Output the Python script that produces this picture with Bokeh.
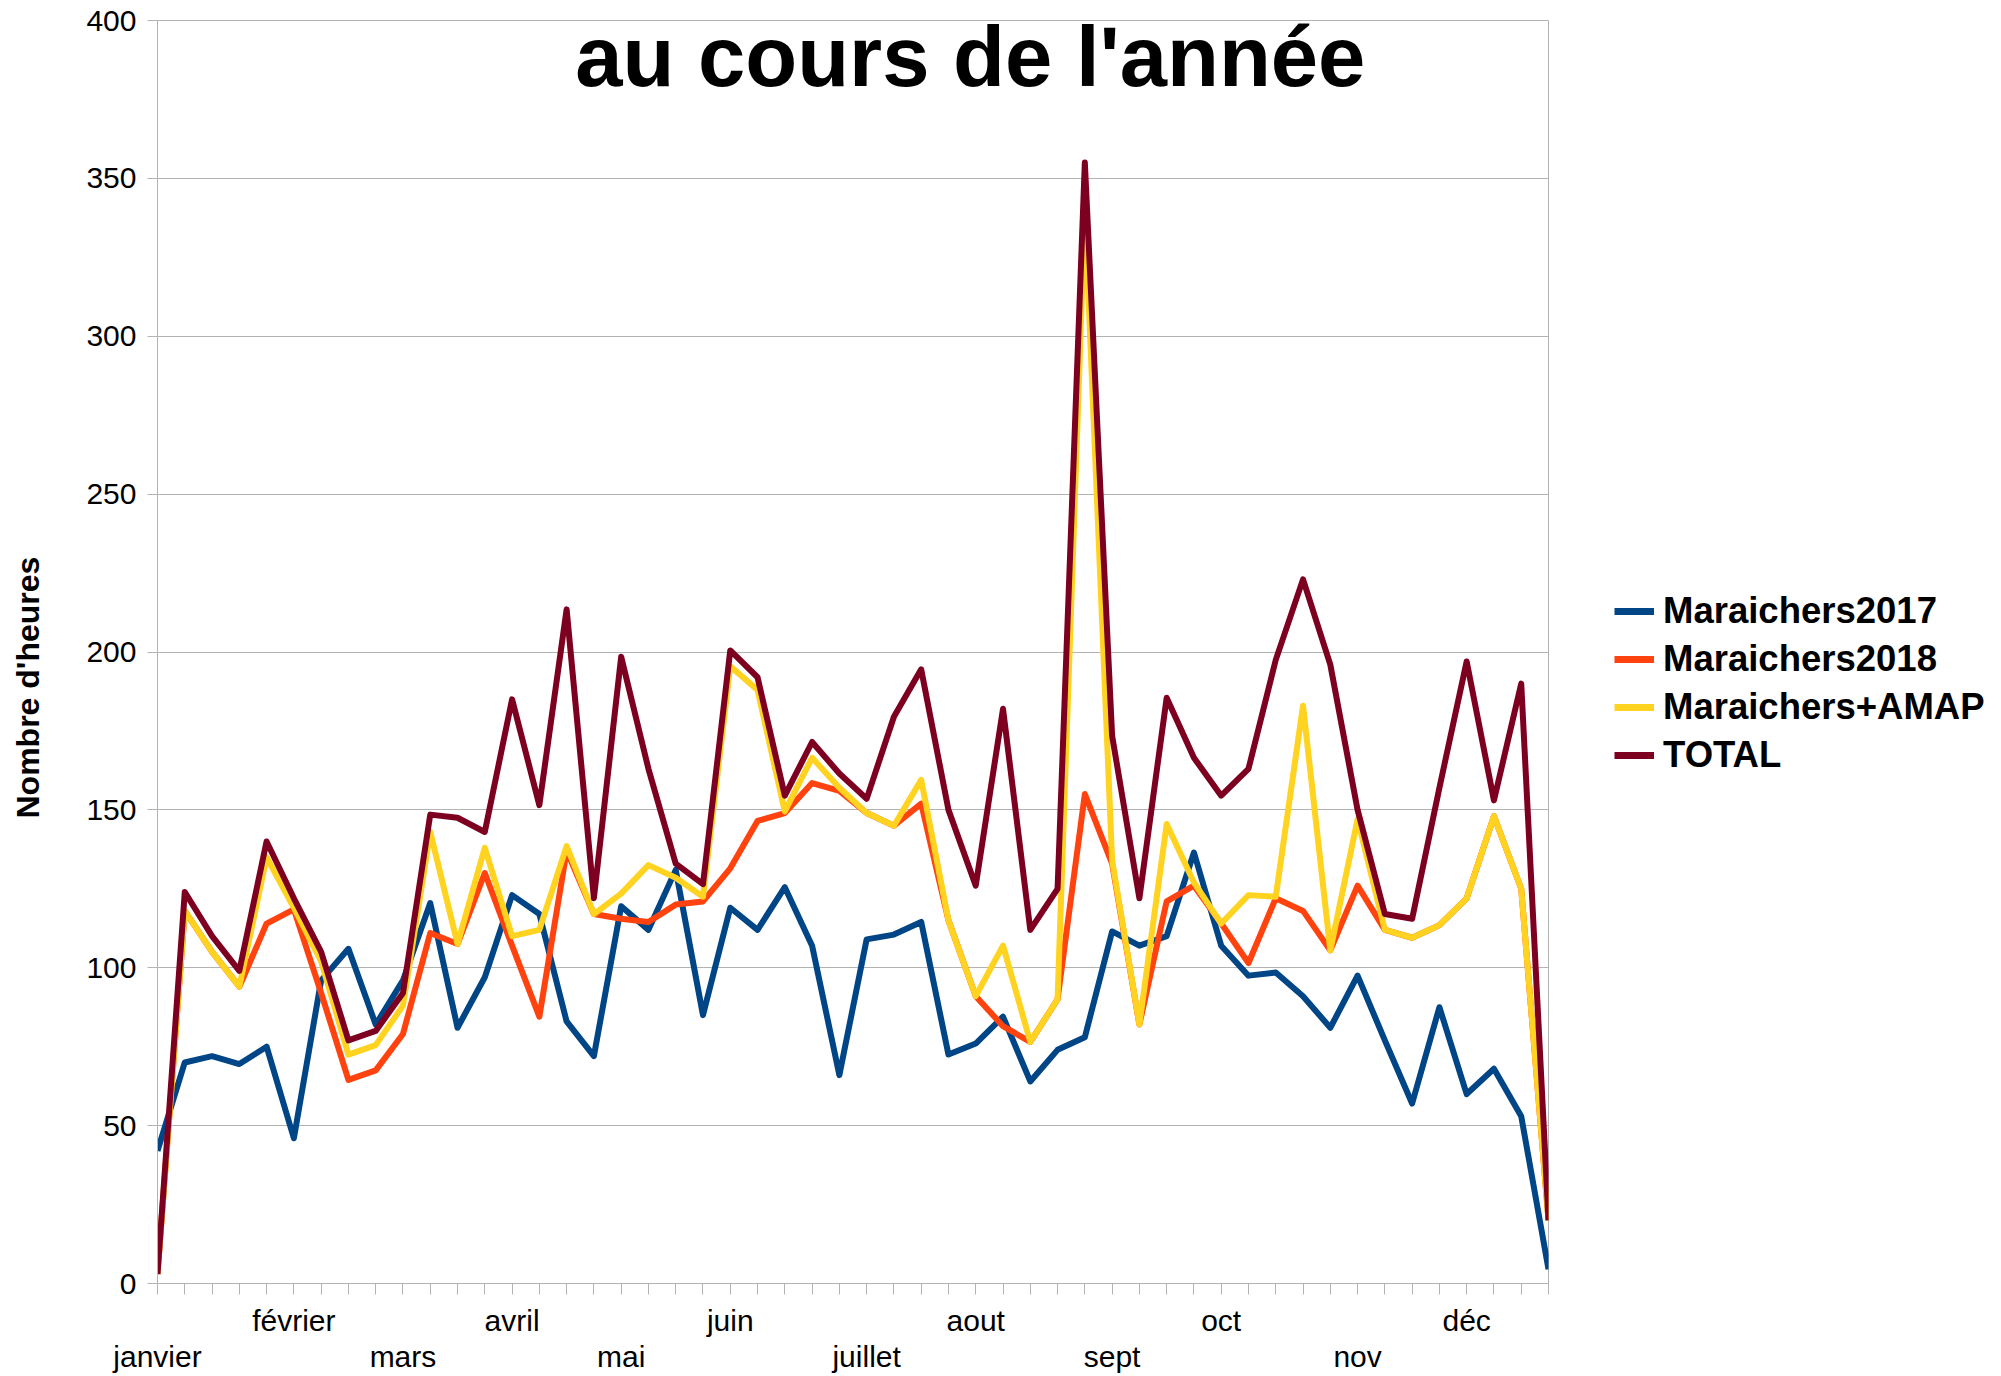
from bokeh.plotting import figure
from bokeh.layouts import row
from bokeh.models import (Range1d, FixedTicker, Legend, LegendItem, Label,
                          LinearAxis)
from bokeh.embed import file_html
from bokeh.resources import INLINE

# ---------------- data ----------------
weeks = list(range(52))
month_names = ["janvier", "février", "mars", "avril", "mai", "juin",
               "juillet", "aout", "sept", "oct", "nov", "déc"]
month_week = [0, 5, 9, 13, 17, 21, 26, 30, 35, 39, 44, 48]
y_ticks = [0, 50, 100, 150, 200, 250, 300, 350, 400]

series_names = ["Maraichers2017", "Maraichers2018", "Maraichers+AMAP", "TOTAL"]

maraichers2017 = [42, 70, 72, 69.5, 75, 46, 96, 106, 82, 96, 120.5, 81, 97, 123,
                  117, 83, 72, 119.5, 112, 131, 85, 119, 112, 125.5, 107, 66,
                  109, 110.5, 114.5, 72.5, 76, 84.5, 64, 74, 78, 111.5, 107, 110,
                  136.5, 107, 97.5, 98.5, 91, 81, 97.5, 77, 57, 87.5, 60, 68,
                  53, 4.5]
maraichers2018 = [3, 118, 105, 94, 114, 118.5, 92, 64.5, 67.5, 79, 111, 107.5,
                  130, 107, 84.5, 137, 117, 115.5, 114.5, 120, 121, 131.5, 146.5,
                  149, 158.5, 156, 149, 145, 152, 115, 91, 81.5, 76.5, 90, 155,
                  133, 82, 121, 126, 114, 101.5, 122, 118, 105.5, 126, 112, 109.5,
                  113.5, 122, 148, 125, 20]
maraichers_amap = [3, 118, 105, 94, 135, 119, 102, 72.5, 75.5, 88, 143, 107.5,
                   138, 110, 112, 138.5, 117, 123.5, 132.5, 128.5, 122.5, 195.5,
                   188, 149.5, 166.5, 157, 149, 145, 159.5, 115, 91, 107, 76.5,
                   90, 340, 134, 82, 145.5, 127, 114, 123, 122.5, 183, 105.5, 147,
                   112, 109.5, 113.5, 122, 148, 125, 20]
total = [3, 124, 110, 99, 140, 122, 105, 77, 80, 92, 148.5, 147.5, 143, 185,
         151.5, 213.5, 122, 198.5, 163, 133, 126.5, 200.5, 192, 154.5, 171.5,
         161.5, 153.5, 179.5, 194.5, 150, 126, 182, 112, 125, 355, 173.5, 122,
         185.5, 166.5, 154.5, 163, 197.5, 223, 196, 150, 117, 115.5, 157, 197,
         153, 190, 20]

colors = ["#004586", "#ff420e", "#ffd320", "#7e0021"]
FONT = "Liberation Sans"
GRID = "#b3b3b3"

# ---------------- main figure ----------------
p = figure(width=1550, height=1376, output_backend="svg", toolbar_location=None,
           x_range=Range1d(0, 51), y_range=Range1d(0, 400),
           min_border_left=157, min_border_right=2, min_border_top=20,
           min_border_bottom=93, background_fill_color="white",
           border_fill_color="white", outline_line_color=GRID,
           outline_line_width=1)

p.xgrid.visible = False
p.ygrid.ticker = FixedTicker(ticks=y_ticks)
p.ygrid.grid_line_color = GRID
p.ygrid.grid_line_width = 1

# y axis
p.yaxis.ticker = FixedTicker(ticks=y_ticks)
p.yaxis.major_tick_out = 10
p.yaxis.major_tick_in = 0
p.yaxis.minor_tick_line_color = None
p.yaxis.axis_line_color = GRID
p.yaxis.major_tick_line_color = GRID
p.yaxis.major_label_text_font = FONT
p.yaxis.major_label_text_font_size = "30px"
p.yaxis.major_label_text_color = "black"
p.yaxis.major_label_standoff = 11
p.yaxis.axis_label = "Nombre d'heures" + "\u00a0" * 8
p.yaxis.axis_label_text_font = FONT
p.yaxis.axis_label_text_font_style = "bold"
p.yaxis.axis_label_text_font_size = "32px"
p.yaxis.axis_label_text_color = "black"
p.yaxis.axis_label_standoff = 37

# x axis: ticks for every week, upper row of month labels
upper_idx = list(range(1, 12, 2))
lower_idx = list(range(0, 12, 2))
overrides = {w: "" for w in weeks}
for i in upper_idx:
    overrides[month_week[i]] = month_names[i]
xa = p.xaxis[0]
xa.ticker = FixedTicker(ticks=weeks)
xa.major_label_overrides = overrides
xa.major_tick_out = 11
xa.major_tick_in = 0
xa.minor_tick_line_color = None
xa.axis_line_color = GRID
xa.major_tick_line_color = GRID
xa.major_label_text_font = FONT
xa.major_label_text_font_size = "30px"
xa.major_label_text_color = "black"
xa.major_label_standoff = 9

# second axis: lower row of month labels (staggered)
xb = LinearAxis(ticker=FixedTicker(ticks=[month_week[i] for i in lower_idx]),
                major_label_overrides={month_week[i]: month_names[i] for i in lower_idx},
                axis_line_color=None, major_tick_line_color=None,
                minor_tick_line_color=None, major_tick_out=0, major_tick_in=0,
                minor_tick_out=0, minor_tick_in=0,
                major_label_standoff=0, major_label_text_font=FONT,
                major_label_text_font_size="30px", major_label_text_color="black")
p.add_layout(xb, "below")

# lines
all_series = [maraichers2017, maraichers2018, maraichers_amap, total]
for vals, col in zip(all_series, colors):
    p.line(weeks, vals, line_color=col, line_width=6, line_join="round")

title = Label(x=29.8, y=388.5, text="au cours de l'année", text_font=FONT,
              text_font_style="bold", text_font_size="85px",
              text_align="center", text_baseline="alphabetic",
              text_color="black")
p.add_layout(title)

# ---------------- legend panel ----------------
# The series are drawn here again only so the legend has glyphs; the ranges
# keep them outside the visible frame of this panel.
pl = figure(width=443, height=1376, output_backend="svg", toolbar_location=None,
            x_range=Range1d(-3, -2), y_range=Range1d(-3, -2),
            x_axis_location=None, y_axis_location=None,
            min_border_left=0, min_border_right=0, min_border_top=0,
            min_border_bottom=0, background_fill_color="white",
            border_fill_color="white", outline_line_color=None)
pl.xgrid.visible = False
pl.ygrid.visible = False
leg_renderers = [pl.line(weeks, vals, line_color=col, line_width=7)
                 for vals, col in zip(all_series, colors)]
legend = Legend(items=[LegendItem(label=n, renderers=[r])
                       for n, r in zip(series_names, leg_renderers)],
                location=(64, 504), border_line_color=None,
                background_fill_alpha=0, padding=0, margin=0, spacing=0,
                glyph_width=40, glyph_height=48, label_height=48,
                label_standoff=9, label_text_font=FONT,
                label_text_font_style="bold", label_text_font_size="36.5px",
                label_text_color="black")
pl.add_layout(legend)

layout = row(p, pl)
open("out.html", "w").write(file_html(layout, INLINE))
